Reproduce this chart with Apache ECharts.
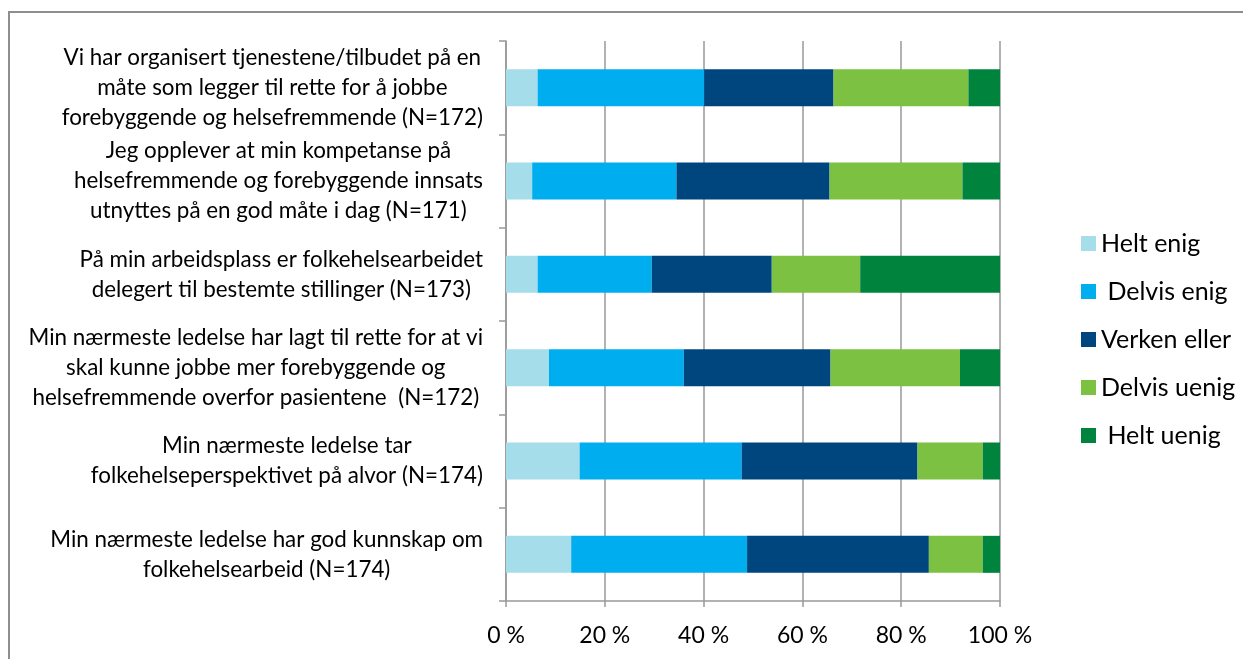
<!DOCTYPE html>
<html>
<head>
<meta charset="utf-8">
<script src="https://cdn.jsdelivr.net/npm/echarts@6/dist/echarts.min.js"></script>
<style>
html,body{margin:0;padding:0;background:#fff;}
#chart{width:1243px;height:659px;}
</style>
</head>
<body>
<div id="chart"></div>
<script>
const categories = [
  "Vi har organisert tjenestene/tilbudet på en\nmåte som legger til rette for å jobbe\nforebyggende og helsefremmende (N=172)",
  "Jeg opplever at min kompetanse på\nhelsefremmende og forebyggende innsats\nutnyttes på en god måte i dag (N=171)",
  "På min arbeidsplass er folkehelsearbeidet\ndelegert til bestemte stillinger (N=173)",
  "Min nærmeste ledelse har lagt til rette for at vi\nskal kunne jobbe mer forebyggende og\nhelsefremmende overfor pasientene  (N=172)",
  "Min nærmeste ledelse tar\nfolkehelseperspektivet på alvor (N=174)",
  "Min nærmeste ledelse har god kunnskap om\nfolkehelsearbeid (N=174)"
];
const seriesNames = ["Helt enig", " Delvis enig", "Verken eller", "Delvis uenig", " Helt uenig"];
const heltEnig    = [6.4, 5.3, 6.4, 8.7, 14.9, 13.2];
const delvisEnig  = [33.7, 29.2, 23.1, 27.3, 32.8, 35.6];
const verkenEller = [26.2, 31.0, 24.3, 29.7, 35.6, 36.8];
const delvisUenig = [27.3, 26.9, 17.9, 26.2, 13.2, 10.9];
const heltUenig   = [6.4, 7.6, 28.3, 8.1, 3.5, 3.5];
const xTicks = [0, 20, 40, 60, 80, 100];
const colors = ["#A5DEEA", "#00AEEF", "#00467E", "#7DC142", "#00843D"];

const values = [heltEnig, delvisEnig, verkenEller, delvisUenig, heltUenig];
const FONT = "Lato";

const chart = echarts.init(document.getElementById('chart'), null, {renderer: 'canvas'});
chart.setOption({
  animation: false,
  color: colors,
  textStyle: {fontFamily: FONT, color: '#000'},
  graphic: [{
    type: 'rect',
    shape: {x: 9, y: 12, width: 1400, height: 800},
    style: {fill: 'none', stroke: '#8e8e8e', lineWidth: 2},
    silent: true
  }],
  grid: {left: 506, right: 243, top: 41, bottom: 58, containLabel: false},
  legend: {
    orient: 'vertical',
    left: 1076,
    top: 226,
    itemWidth: 15,
    itemHeight: 15,
    itemGap: 23,
    icon: 'rect',
    textStyle: {fontFamily: FONT, fontSize: 25, color: '#000', lineHeight: 24},
    data: seriesNames
  },
  xAxis: {
    type: 'value',
    min: xTicks[0],
    max: xTicks[xTicks.length - 1],
    interval: 20,
    axisLine: {show: true, lineStyle: {color: '#999', width: 1.5}},
    axisTick: {show: true, length: 6, lineStyle: {color: '#999', width: 1.5}},
    splitLine: {show: true, lineStyle: {color: '#999', width: 1.5}},
    axisLabel: {
      margin: 23,
      fontFamily: FONT,
      fontSize: 23,
      color: '#000',
      formatter: v => v + ' %'
    }
  },
  yAxis: {
    type: 'category',
    inverse: true,
    data: categories,
    axisLine: {show: true, lineStyle: {color: '#999', width: 1.5}},
    axisTick: {show: true, length: 7, lineStyle: {color: '#999', width: 1.5}},
    axisLabel: {
      margin: 23,
      fontFamily: FONT,
      fontSize: 22.4,
      color: '#000',
      lineHeight: 30,
      formatter: v => v.split('\n').map(s => '{c|' + s + '}').join('\n'),
      rich: {c: {align: 'center', fontFamily: FONT, fontSize: 22.4, lineHeight: 30, color: '#000'}}
    }
  },
  series: seriesNames.map((name, i) => ({
    name: name,
    type: 'bar',
    stack: 'total',
    barWidth: 37,
    data: values[i],
    itemStyle: {color: colors[i]}
  }))
});
</script>
</body>
</html>
